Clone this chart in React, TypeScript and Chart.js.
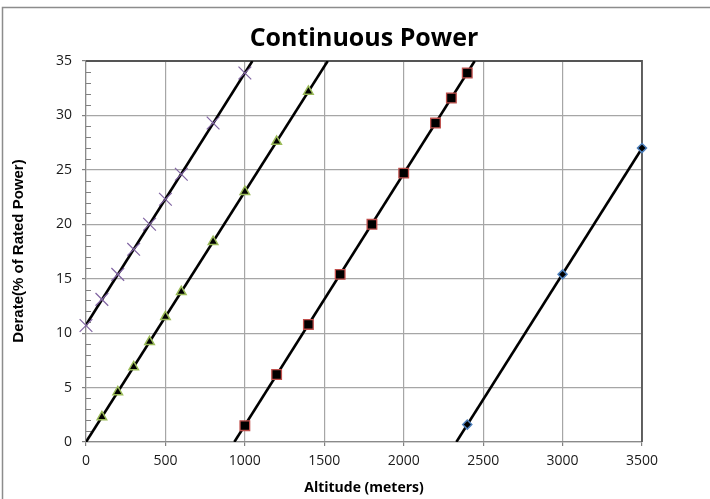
import React, { useEffect, useRef } from "react";
import { Chart, registerables } from "chart.js";

Chart.register(...registerables);

const titleText = "Continuous Power";
const xAxisTitle = "Altitude (meters)";
const yAxisTitle = "Derate(% of Rated Power)";

const xMin = 0;
const xMax = 3500;
const xStep = 500;
const yMin = 0;
const yMax = 35;
const yStep = 5;

const s1X = [0, 100, 200, 300, 400, 500, 600, 800, 1000];
const s1Y = [10.7, 13.1, 15.4, 17.7, 20.0, 22.3, 24.6, 29.3, 33.9];

const s2X = [100, 200, 300, 400, 500, 600, 800, 1000, 1200, 1400];
const s2Y = [2.3, 4.6, 6.9, 9.2, 11.5, 13.8, 18.4, 23.0, 27.6, 32.2];

const s3X = [1000, 1200, 1400, 1600, 1800, 2000, 2200, 2300, 2400];
const s3Y = [1.5, 6.2, 10.8, 15.4, 20.0, 24.7, 29.3, 31.6, 33.9];

const s4X = [2400, 3000, 3500];
const s4Y = [1.6, 15.4, 27.0];

function pts(xs: number[], ys: number[]) {
  return xs.map((x, i) => ({ x, y: ys[i] }));
}

// Linear trendline (least squares), extended to the axis bounds
function trend(xs: number[], ys: number[]) {
  const n = xs.length;
  const mx = xs.reduce((a, b) => a + b, 0) / n;
  const my = ys.reduce((a, b) => a + b, 0) / n;
  let sxy = 0;
  let sxx = 0;
  for (let i = 0; i < n; i++) {
    sxy += (xs[i] - mx) * (ys[i] - my);
    sxx += (xs[i] - mx) * (xs[i] - mx);
  }
  const m = sxy / sxx;
  const b = my - m * mx;
  const x0 = Math.max(xMin, (yMin - b) / m);
  const x1 = Math.min(xMax, (yMax - b) / m);
  return [
    { x: x0, y: m * x0 + b },
    { x: x1, y: m * x1 + b },
  ];
}

const decorPlugin = {
  id: "decor",
  beforeDraw(chart: any) {
    const ctx = chart.ctx;
    ctx.save();
    ctx.fillStyle = "#ffffff";
    ctx.fillRect(0, 0, chart.width, chart.height);
    ctx.restore();
  },
  beforeDatasetsDraw(chart: any) {
    const ctx = chart.ctx;
    const ca = chart.chartArea;
    const ys = chart.scales.y;
    ctx.save();
    // plot border top + right
    ctx.strokeStyle = "#555555";
    ctx.lineWidth = 1.8;
    ctx.beginPath();
    ctx.moveTo(ca.left, ca.top);
    ctx.lineTo(ca.right, ca.top);
    ctx.lineTo(ca.right, ca.bottom);
    ctx.stroke();

    // minor ticks on y axis (inside)
    ctx.strokeStyle = "#808080";
    ctx.lineWidth = 1;
    ctx.beginPath();
    for (let v = yMin; v <= yMax; v += 1) {
      if (v % yStep === 0) continue;
      const py = Math.round(ys.getPixelForValue(v)) + 0.5;
      ctx.moveTo(ca.left, py);
      ctx.lineTo(ca.left + 5, py);
    }
    ctx.stroke();
    ctx.restore();
  },
  afterDraw(chart: any) {
    const ctx = chart.ctx;
    ctx.save();
    // outer frame (top + left)
    ctx.strokeStyle = "#8c8c8c";
    ctx.lineWidth = 1.5;
    ctx.beginPath();
    ctx.moveTo(2.5, chart.height);
    ctx.lineTo(2.5, 7.5);
    ctx.lineTo(chart.width, 7.5);
    ctx.stroke();

    // title
    ctx.fillStyle = "#000000";
    ctx.textAlign = "center";
    ctx.textBaseline = "middle";
    ctx.font = "bold 25px 'Open Sans'";
    ctx.fillText(titleText, 364, 39);

    // x axis title
    ctx.font = "bold 14px 'Open Sans'";
    ctx.fillText(xAxisTitle, 364, 488);

    // y axis title
    ctx.translate(19, 251);
    ctx.rotate(-Math.PI / 2);
    ctx.font = "bold 15px 'Liberation Sans'";
    ctx.fillText(yAxisTitle, 0, 0);
    ctx.restore();
  },
};

export default function App() {
  const ref = useRef<HTMLCanvasElement | null>(null);

  useEffect(() => {
    if (!ref.current) return;
    const lineStyle = {
      type: "line" as const,
      borderColor: "#000000",
      borderWidth: 2.6,
      pointRadius: 0,
      showLine: true,
      fill: false,
      order: 2,
    };
    const chart = new Chart(ref.current, {
      type: "scatter",
      data: {
        datasets: [
          { ...lineStyle, data: trend(s1X, s1Y) },
          { ...lineStyle, data: trend(s2X, s2Y) },
          { ...lineStyle, data: trend(s3X, s3Y) },
          { ...lineStyle, data: trend(s4X, s4Y) },
          {
            data: pts(s1X, s1Y),
            pointStyle: "crossRot",
            pointRadius: 9,
            borderColor: "#8064A2",
            backgroundColor: "#8064A2",
            pointBorderWidth: 1.2,
            clip: false,
            order: 0,
          },
          {
            data: pts(s2X, s2Y),
            pointStyle: "triangle",
            pointRadius: 5.5,
            borderColor: "#9BBB59",
            backgroundColor: "#000000",
            pointBorderWidth: 1.5,
            clip: false,
            order: 0,
          },
          {
            data: pts(s3X, s3Y),
            pointStyle: "rect",
            pointRadius: 6.8,
            borderColor: "#C0504D",
            backgroundColor: "#000000",
            pointBorderWidth: 1.3,
            clip: false,
            order: 0,
          },
          {
            data: pts(s4X, s4Y),
            pointStyle: "rectRot",
            pointRadius: 4.5,
            borderColor: "#4F81BD",
            backgroundColor: "#000000",
            pointBorderWidth: 1.5,
            clip: false,
            order: 0,
          },
        ],
      } as any,
      options: {
        animation: false,
        responsive: false,
        maintainAspectRatio: false,
        layout: { padding: { left: 0, top: 61, right: 68, bottom: 0 } },
        plugins: {
          legend: { display: false },
          tooltip: { enabled: false },
          title: { display: false },
        },
        scales: {
          x: {
            type: "linear",
            min: xMin,
            max: xMax,
            afterFit: (s: any) => {
              s.height = 57;
            },
            ticks: {
              stepSize: xStep,
              color: "#1a1a1a",
              font: { family: "'Open Sans'", size: 14 },
              padding: 7,
              maxRotation: 0,
              callback: (v: any) => String(v),
            },
            grid: {
              color: "#A6A6A6",
              lineWidth: 1.2,
              tickLength: 4,
              tickColor: "#808080",
            },
            border: { color: "#8a8a8a", width: 1.2 },
          },
          y: {
            type: "linear",
            min: yMin,
            max: yMax,
            afterFit: (s: any) => {
              s.width = 86;
            },
            ticks: {
              stepSize: yStep,
              color: "#1a1a1a",
              font: { family: "'Open Sans'", size: 14 },
              padding: 10,
              callback: (v: any) => String(v),
            },
            grid: {
              color: "#A6A6A6",
              lineWidth: 1.2,
              tickLength: 4,
              tickColor: "#808080",
            },
            border: { color: "#8a8a8a", width: 1.2 },
          },
        },
      } as any,
      plugins: [decorPlugin],
    });
    return () => chart.destroy();
  }, []);

  return (
    <div style={{ position: "fixed", left: 0, top: 0, width: 710, height: 499 }}>
      <canvas ref={ref} width={710} height={499} style={{ display: "block", width: 710, height: 499 }} />
    </div>
  );
}
